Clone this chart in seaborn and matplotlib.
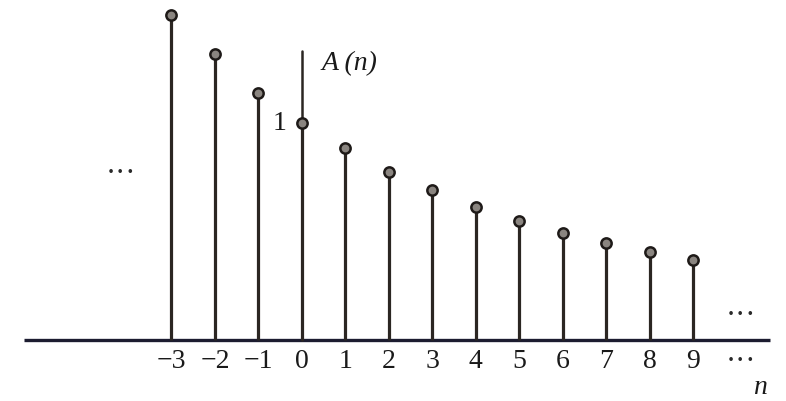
import numpy as np
import pandas as pd
import matplotlib
matplotlib.use("Agg")
import matplotlib.pyplot as plt
import seaborn as sns

# sample index and amplitude (A(0) = 1)
n_values = [-3, -2, -1, 0, 1, 2, 3, 4, 5, 6, 7, 8, 9]
a_values = [1.50, 1.32, 1.14, 1.00, 0.885, 0.774, 0.69, 0.613, 0.548, 0.493, 0.447, 0.406, 0.369]
tick_labels = ["\u22123", "\u22122", "\u22121", "0", "1", "2", "3", "4", "5", "6", "7", "8", "9"]

df = pd.DataFrame({"n": n_values, "A": a_values})

sns.set_theme(style="white")
plt.rcParams["font.family"] = ["Liberation Serif", "DejaVu Serif"]

fig = plt.figure(figsize=(7.86, 4.01), dpi=100)
ax = fig.add_axes([0, 0, 1, 1])
ax.set_xlim(-6.94, 11.13)
ax.set_ylim(-0.281, 1.567)
ax.axis("off")

stem_color = "#2b2622"
text_color = "#1a1a1a"

# horizontal axis
ax.plot([-6.39, 10.76], [0, 0], color="#1c1c30", lw=2.4, solid_capstyle="butt", zorder=1)
# vertical axis at n = 0
ax.plot([0, 0], [0, 1.33], color=stem_color, lw=1.8, zorder=2)

# stems
ax.vlines(df["n"], 0, df["A"], color=stem_color, lw=2.3, zorder=2)
# heads
sns.scatterplot(data=df, x="n", y="A", ax=ax, s=55, color="#8a8580",
                edgecolor="#1e1a18", linewidth=1.8, zorder=3, legend=False)

# tick labels under the axis
for n, lab in zip(n_values, tick_labels):
    ax.text(n, -0.10, lab, ha="center", va="center", fontsize=20, color=text_color)

ax.text(0.46, 1.272, "A (n)", ha="left", va="center", fontsize=20,
        style="italic", color=text_color)
ax.text(-0.52, 1.0, "1", ha="center", va="center", fontsize=20, color=text_color)
ax.text(-4.16, 0.765, "\u00b7\u00b7\u00b7", ha="center", va="center", fontsize=22, color="#2a2a2a")
ax.text(10.09, 0.11, "\u00b7\u00b7\u00b7", ha="center", va="center", fontsize=22, color="#2a2a2a")
ax.text(10.09, -0.103, "\u00b7\u00b7\u00b7", ha="center", va="center", fontsize=22, color="#2a2a2a")
ax.text(10.53, -0.22, "n", ha="center", va="center", fontsize=20,
        style="italic", color=text_color)

fig.savefig("out.png", dpi=100, facecolor="white")
